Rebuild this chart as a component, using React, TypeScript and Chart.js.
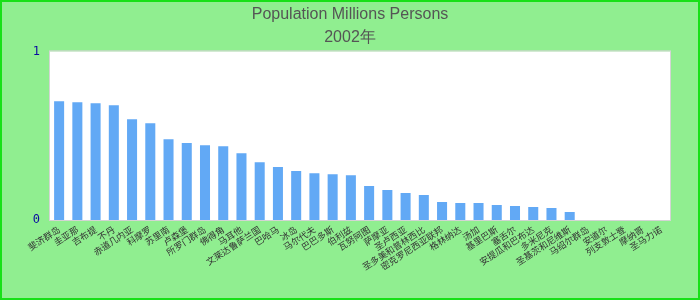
import React, { useEffect, useRef } from "react";
import { Chart, registerables } from "chart.js";

Chart.register(...registerables);

const titleText = "Population Millions Persons";
const subtitleText = "2002年";

const categories: string[] = [
  "斐济群岛", "圭亚那", "吉布提", "不丹", "赤道几内亚", "科摩罗", "苏里南", "卢森堡",
  "所罗门群岛", "佛得角", "马耳他", "文莱达鲁萨兰国", "巴哈马", "冰岛", "马尔代夫", "巴巴多斯",
  "伯利兹", "瓦努阿图", "萨摩亚", "圣卢西亚", "圣多美和普林西比", "密克罗尼西亚联邦", "格林纳达", "汤加",
  "基里巴斯", "塞舌尔", "安提瓜和巴布达", "多米尼克", "圣基茨和尼维斯", "马绍尔群岛", "安道尔", "列支敦士登",
  "摩纳哥", "圣马力诺",
];

const populationValues: number[] = [
  0.704, 0.698, 0.692, 0.68, 0.598, 0.574, 0.479, 0.456,
  0.444, 0.438, 0.396, 0.343, 0.314, 0.29, 0.278, 0.272,
  0.266, 0.201, 0.178, 0.16, 0.148, 0.107, 0.101, 0.101,
  0.089, 0.083, 0.077, 0.071, 0.047, 0, 0, 0,
  0, 0,
];

const yTickValues: number[] = [0, 1];

const backgroundPlugin = {
  id: "bgPlugin",
  beforeDraw(chart: any) {
    const { ctx, width, height, chartArea } = chart;
    ctx.save();
    ctx.fillStyle = "#90ee90";
    ctx.fillRect(0, 0, width, height);
    ctx.strokeStyle = "#18e018";
    ctx.lineWidth = 2;
    ctx.strokeRect(1, 1, width - 2, height - 2);
    ctx.fillStyle = "#ffffff";
    ctx.fillRect(chartArea.left, chartArea.top, chartArea.right - chartArea.left, chartArea.bottom - chartArea.top);
    ctx.strokeStyle = "#d4d4d4";
    ctx.lineWidth = 1;
    ctx.strokeRect(chartArea.left - 0.5, chartArea.top - 0.5, chartArea.right - chartArea.left + 1, chartArea.bottom - chartArea.top + 1);
    ctx.restore();
  },
};

export default function App() {
  const ref = useRef<HTMLCanvasElement | null>(null);

  useEffect(() => {
    if (!ref.current) return;
    const chart = new Chart(ref.current, {
      type: "bar",
      data: {
        labels: categories,
        datasets: [
          {
            label: titleText,
            data: populationValues,
            backgroundColor: "#62a9f5",
            borderWidth: 0,
            categoryPercentage: 1,
            barPercentage: 0.55,
            yAxisID: "y",
          },
        ],
      },
      options: {
        responsive: false,
        animation: false,
        layout: { padding: 0 },
        plugins: {
          legend: { display: false },
          tooltip: { enabled: false },
          title: {
            display: true,
            text: titleText,
            color: "#555555",
            font: { family: "Liberation Sans, Arial, sans-serif", size: 16, weight: "normal" },
            padding: { top: 5, bottom: 1 },
          },
          subtitle: {
            display: true,
            text: subtitleText,
            color: "#555555",
            font: { family: "Liberation Sans, Arial, sans-serif", size: 16, weight: "normal" },
            padding: { top: 3, bottom: 4 },
          },
        },
        scales: {
          x: {
            offset: true,
            grid: { display: false, drawTicks: false },
            border: { display: false },
            ticks: {
              autoSkip: false,
              maxRotation: 33,
              minRotation: 33,
              padding: 4,
              color: "#333333",
              font: { family: "Noto Sans CJK SC, sans-serif", size: 9 },
            },
            afterFit(scale: any) {
              scale.height = 80;
            },
          },
          y: {
            min: 0,
            max: 1,
            grid: { display: false, drawTicks: false },
            border: { display: false },
            afterBuildTicks(scale: any) {
              scale.ticks = yTickValues.map((v) => ({ value: v }));
            },
            ticks: {
              padding: 10,
              color: "#0a0aa0",
              font: { family: "DejaVu Sans Mono, monospace", size: 12 },
            },
            afterFit(scale: any) {
              scale.width = 50;
            },
          },
          yRight: {
            position: "right",
            min: 0,
            max: 1,
            grid: { display: false, drawTicks: false },
            border: { display: false },
            ticks: { display: false },
            afterFit(scale: any) {
              scale.width = 30;
            },
          },
        },
      },
      plugins: [backgroundPlugin],
    });
    return () => chart.destroy();
  }, []);

  return (
    <div style={{ position: "fixed", left: 0, top: 0, width: 700, height: 300 }}>
      <canvas ref={ref} width={700} height={300} style={{ width: 700, height: 300, display: "block" }} />
    </div>
  );
}
